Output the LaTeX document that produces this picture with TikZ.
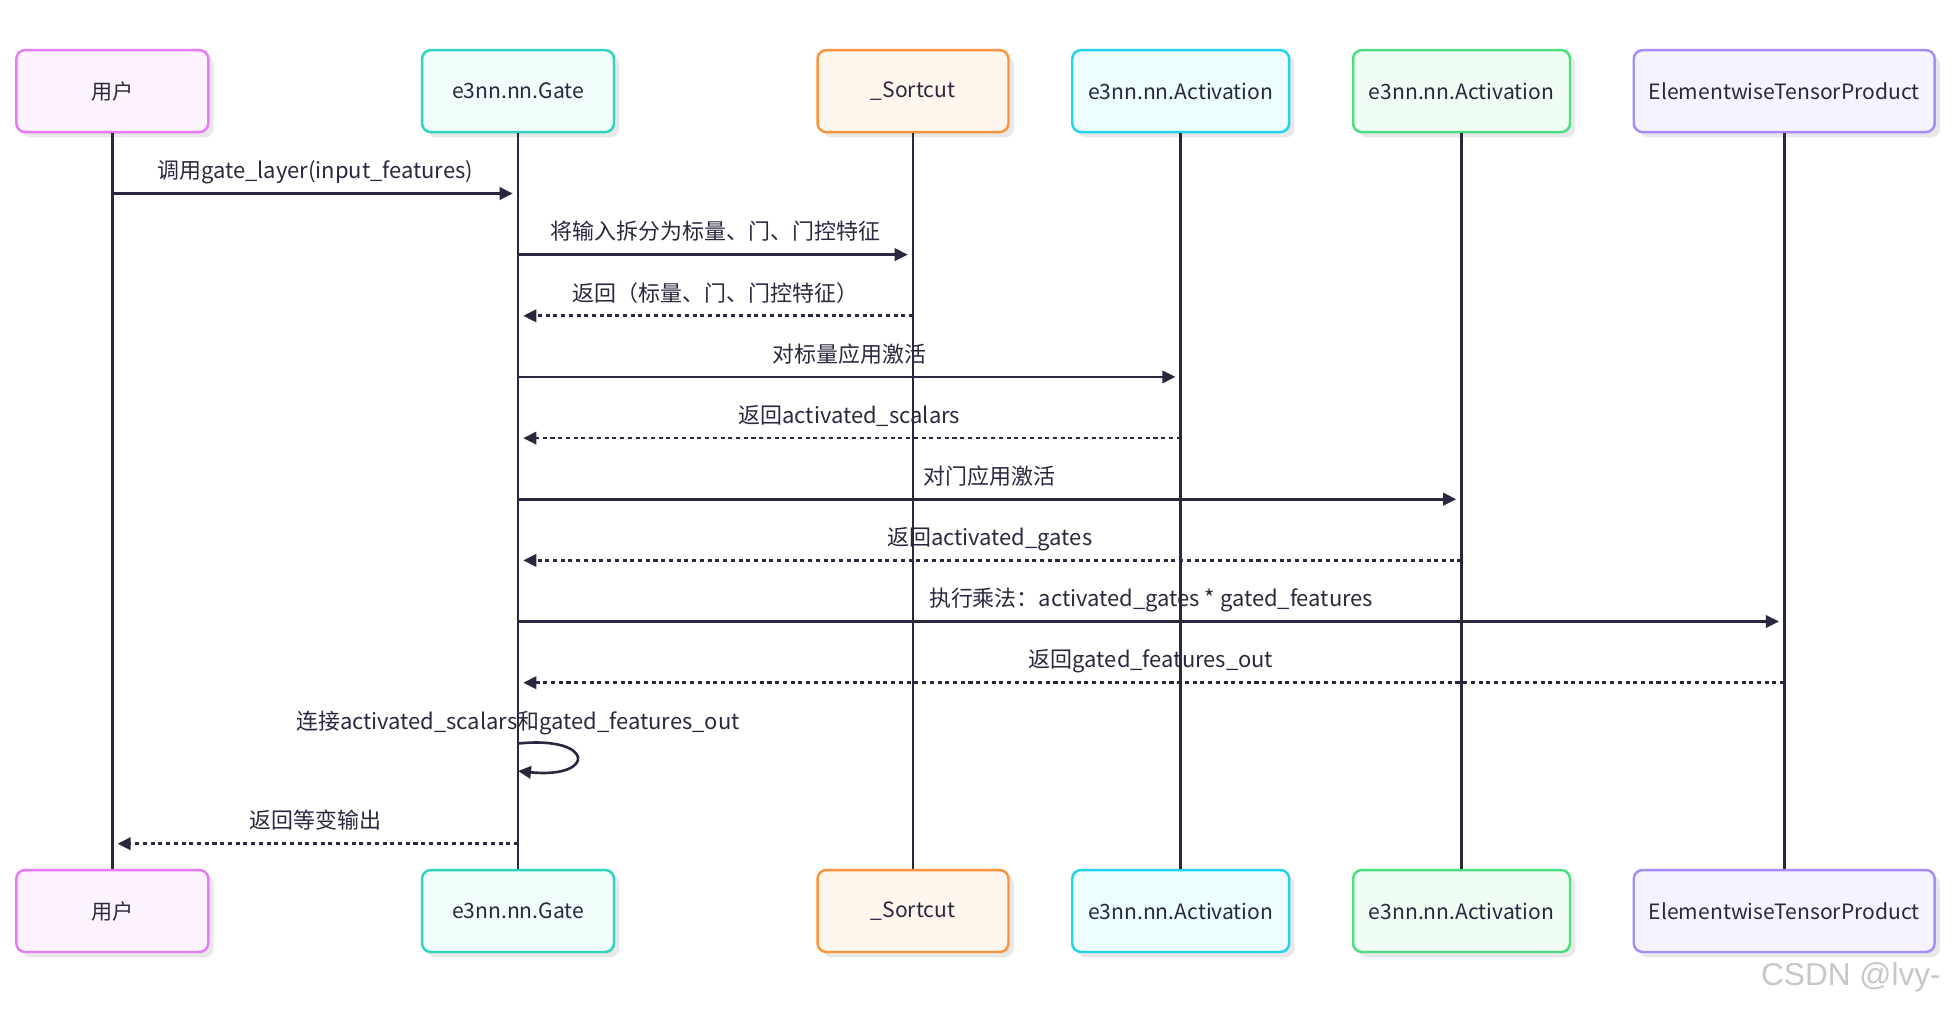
\documentclass[tikz,border=0pt]{standalone}
\usepackage{fontspec}
\setmainfont{Noto Sans CJK SC}
\newfontfamily\wmfont{Liberation Sans}
\usetikzlibrary{arrows.meta,shadows}

\definecolor{ink}{HTML}{2A283E}
\definecolor{userdraw}{HTML}{E879F9}
\definecolor{userfill}{HTML}{FDF4FF}
\definecolor{gatedraw}{HTML}{2DD4BF}
\definecolor{gatefill}{HTML}{F0FDFA}
\definecolor{sortdraw}{HTML}{FB923C}
\definecolor{sortfill}{HTML}{FFF7ED}
\definecolor{actadraw}{HTML}{22D3EE}
\definecolor{actafill}{HTML}{ECFEFF}
\definecolor{actbdraw}{HTML}{4ADE80}
\definecolor{actbfill}{HTML}{F0FDF4}
\definecolor{etpdraw}{HTML}{A78BFA}
\definecolor{etpfill}{HTML}{F5F3FF}

\tikzset{
  actor/.style={draw, rounded corners=5pt, line width=1.4pt, minimum height=1.64cm,
    text=ink, font=\fontsize{12}{14}\selectfont,
    drop shadow={shadow xshift=3pt, shadow yshift=-3pt, fill=black!9, opacity=1}},
  lifeline/.style={ink, line width=1.5pt},
  call/.style={ink, line width=1.5pt, -{Triangle[length=7.4pt,width=7pt]}, shorten >=3pt},
  reply/.style={call, dash pattern=on 2.3pt off 2.1pt},
  msg/.style={anchor=base, yshift=8.4pt, inner sep=0pt, text=ink, font=\fontsize{12.5}{14}\selectfont}
}

\begin{document}
\begin{tikzpicture}[x=0.02cm, y=-0.02cm]
	 \useasboundingbox (0,0) rectangle (1957,1011);
	 % participants, top row
	 \node[actor, draw=userdraw, fill=userfill, minimum width=3.84cm] (user) at (112.3,91.1) {用户};
	 \node[actor, draw=gatedraw, fill=gatefill, minimum width=3.84cm] (gate) at (518,91.1) {e3nn.nn.Gate};
	 \node[actor, draw=sortdraw, fill=sortfill, minimum width=3.82cm] (sort) at (913,91.1) {\_Sortcut};
	 \node[actor, draw=actadraw, fill=actafill, minimum width=4.34cm] (acta) at (1180.7,91.1) {e3nn.nn.Activation};
	 \node[actor, draw=actbdraw, fill=actbfill, minimum width=4.34cm] (actb) at (1461.5,91.1) {e3nn.nn.Activation};
	 \node[actor, draw=etpdraw, fill=etpfill, minimum width=6.02cm] (etp) at (1784.2,91.1) {ElementwiseTensorProduct};
	 % participants, bottom row
	 \node[actor, draw=userdraw, fill=userfill, minimum width=3.84cm] (userB) at (112.3,911) {用户};
	 \node[actor, draw=gatedraw, fill=gatefill, minimum width=3.84cm] (gateB) at (518,911) {e3nn.nn.Gate};
	 \node[actor, draw=sortdraw, fill=sortfill, minimum width=3.82cm] (sortB) at (913,911) {\_Sortcut};
	 \node[actor, draw=actadraw, fill=actafill, minimum width=4.34cm] (actaB) at (1180.7,911) {e3nn.nn.Activation};
	 \node[actor, draw=actbdraw, fill=actbfill, minimum width=4.34cm] (actbB) at (1461.5,911) {e3nn.nn.Activation};
	 \node[actor, draw=etpdraw, fill=etpfill, minimum width=6.02cm] (etpB) at (1784.2,911) {ElementwiseTensorProduct};
	 % lifelines
	 \draw[lifeline] (user) -- (userB);
	 \draw[lifeline] (gate) -- (gateB);
	 \draw[lifeline] (sort) -- (sortB);
	 \draw[lifeline] (acta) -- (actaB);
	 \draw[lifeline] (actb) -- (actbB);
	 \draw[lifeline] (etp) -- (etpB);
	 % message rows
	 \coordinate (m1) at (0,193.5);
	 \coordinate (m2) at (0,254.6);
	 \coordinate (m3) at (0,315.8);
	 \coordinate (m4) at (0,376.9);
	 \coordinate (m5) at (0,438.1);
	 \coordinate (m6) at (0,499.2);
	 \coordinate (m7) at (0,560.4);
	 \coordinate (m8) at (0,621.5);
	 \coordinate (m9) at (0,682.7);
	 \coordinate (m10) at (0,743.5);
	 \coordinate (m10e) at (0,771);
	 \coordinate (m11) at (0,843.7);
	 % messages
	 \draw[call] (user |- m1) -- (gate |- m1) node[msg, midway] {调用gate\_layer(input\_features)};
	 \draw[call] (gate |- m2) -- (sort |- m2) node[msg, midway] {将输入拆分为标量、门、门控特征};
	 \draw[reply] (sort |- m3) -- (gate |- m3) node[msg, midway] {返回（标量、门、门控特征）};
	 \draw[call] (gate |- m4) -- (acta |- m4) node[msg, midway] {对标量应用激活};
	 \draw[reply] (acta |- m5) -- (gate |- m5) node[msg, midway] {返回activated\_scalars};
	 \draw[call] (gate |- m6) -- (actb |- m6) node[msg, midway] {对门应用激活};
	 \draw[reply] (actb |- m7) -- (gate |- m7) node[msg, midway] {返回activated\_gates};
	 \draw[call] (gate |- m8) -- (etp |- m8) node[msg, midway] {执行乘法：activated\_gates * gated\_features};
	 \draw[reply] (etp |- m9) -- (gate |- m9) node[msg, midway] {返回gated\_features\_out};
	 \draw[call, shorten >=0pt] (gate |- m10) .. controls +(78,-8) and +(78,8) .. (gate |- m10e);
	 \node[msg, yshift=-0.7pt] (selfmsg) at (gate |- m10) {连接activated\_scalars和gated\_features\_out};
	 \draw[reply] (gate |- m11) -- (user |- m11) node[msg, midway] {返回等变输出};
	 % watermark
	 \node[anchor=east, text=black!22, font=\wmfont\fontsize{18}{20}\selectfont] (mark) at (1947,977) {CSDN @lvy-};
\end{tikzpicture}
\end{document}
